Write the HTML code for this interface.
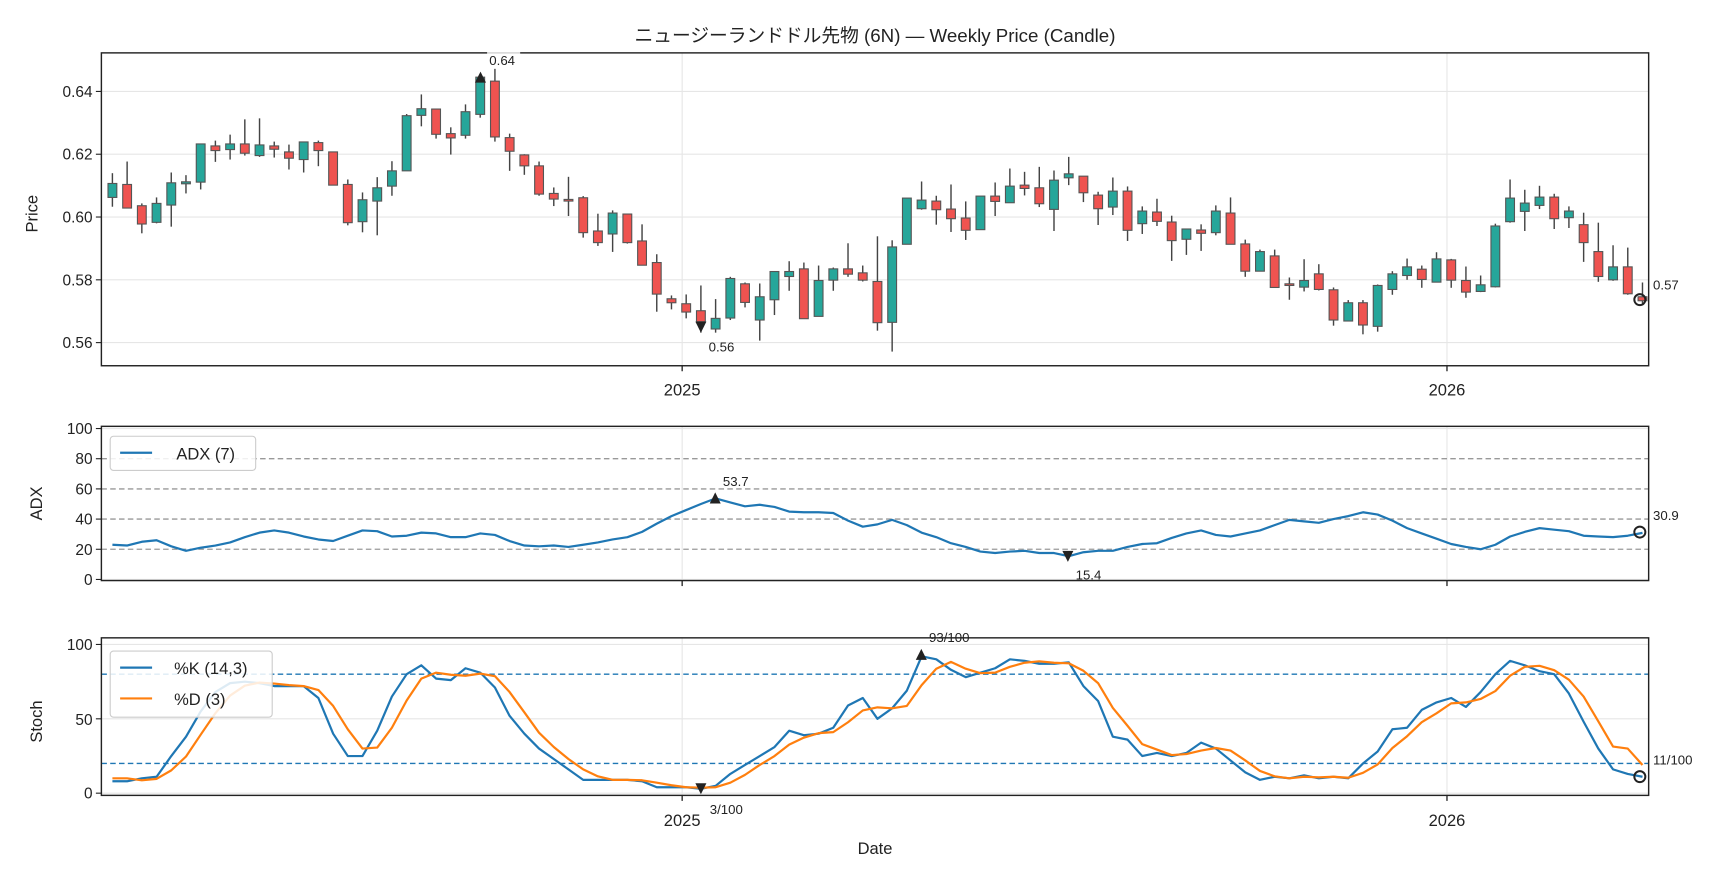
<!DOCTYPE html>
<html><head><meta charset="utf-8">
<style>
html,body{margin:0;padding:0;background:#fff;}
svg{display:block;}
text{font-family:"Liberation Sans","Noto Sans CJK JP",sans-serif;fill:#222;}
</style></head>
<body>
<svg id="s" width="1728" height="878" viewBox="0 0 1568 797" preserveAspectRatio="none" xmlns="http://www.w3.org/2000/svg">
<rect width="1568" height="797" fill="#fff"/>
<g id="g"></g>
<text x="794" y="38" font-size="17" text-anchor="middle">ニュージーランドドル先物 (6N) — Weekly Price (Candle)</text>
<text x="34" y="194" font-size="15" text-anchor="middle" transform="rotate(-90 34 194)">Price</text>
<text x="38" y="457" font-size="15" text-anchor="middle" transform="rotate(-90 38 457)">ADX</text>
<text x="38" y="655" font-size="15" text-anchor="middle" transform="rotate(-90 38 655)">Stoch</text>
<g font-size="14" text-anchor="end">
<text x="84" y="88">0.64</text><text x="84" y="145">0.62</text><text x="84" y="202">0.60</text><text x="84" y="259">0.58</text><text x="84" y="316">0.56</text>
<text x="84" y="394">100</text><text x="84" y="421">80</text><text x="84" y="449">60</text><text x="84" y="476">40</text><text x="84" y="504">20</text><text x="84" y="531">0</text>
<text x="84" y="590">100</text><text x="84" y="658">50</text><text x="84" y="725">0</text>
</g>
<g font-size="15" text-anchor="middle">
<text x="619" y="359">2025</text><text x="1313" y="359">2026</text>
<text x="619" y="750">2025</text><text x="1313" y="750">2026</text>
<text x="794" y="775">Date</text>
</g>
<g font-size="12" fill="#555">
<rect x="442" y="46" width="30" height="14" fill="#fff" opacity="0.8"/>
<text x="444" y="59" fill="#555">0.64</text>
<text x="643" y="319" fill="#555">0.56</text>
<text x="1500" y="263" fill="#555">0.57</text>
<text x="656" y="441" fill="#555">53.7</text>
<text x="976" y="526" fill="#555">15.4</text>
<text x="1500" y="472" fill="#555">30.9</text>
<text x="843" y="583" fill="#555">93/100</text>
<text x="644" y="739" fill="#555">3/100</text>
<text x="1500" y="694" fill="#555">11/100</text>
</g>
<g id="leg">
<rect x="100" y="396" width="132" height="31" rx="3" fill="#fff" fill-opacity="0.85" stroke="#ccc"/>
<line x1="109" y1="411" x2="138" y2="411" stroke="#1f77b4" stroke-width="2"/>
<text x="160" y="417" font-size="15">ADX (7)</text>
<rect x="100" y="591" width="147" height="60" rx="3" fill="#fff" fill-opacity="0.85" stroke="#ccc"/>
<line x1="109" y1="606" x2="138" y2="606" stroke="#1f77b4" stroke-width="2"/>
<text x="158" y="612" font-size="15">%K (14,3)</text>
<line x1="109" y1="634" x2="138" y2="634" stroke="#ff7f0e" stroke-width="2"/>
<text x="158" y="640" font-size="15">%D (3)</text>
</g>
</svg>
<script>
(function(){
var NS="http://www.w3.org/2000/svg",g=document.getElementById('g');
function el(t,a){var e=document.createElementNS(NS,t);for(var k in a)e.setAttribute(k,a[k]);g.appendChild(e);return e;}
var L=92,R=1496;
function X(i){return 102+13.35*i;}
var P=[[48,332],[387,527],[579,722]];
[83,140,197,254,311].forEach(function(y){el('line',{x1:L,x2:R,y1:y,y2:y,stroke:'#e6e6e6','stroke-width':1});});
[389,526].forEach(function(y){el('line',{x1:L,x2:R,y1:y,y2:y,stroke:'#e6e6e6','stroke-width':1});});
[585,652.5,720].forEach(function(y){el('line',{x1:L,x2:R,y1:y,y2:y,stroke:'#e6e6e6','stroke-width':1});});
P.forEach(function(p){[619,1313].forEach(function(x){el('line',{x1:x,x2:x,y1:p[0],y2:p[1],stroke:'#e6e6e6','stroke-width':1});});});
[20,40,60,80].forEach(function(v){var y=526-v*1.37;el('line',{x1:L,x2:R,y1:y,y2:y,stroke:'#999','stroke-width':1.2,'stroke-dasharray':'5,3'});});
[20,80].forEach(function(v){var y=720-v*1.35;el('line',{x1:L,x2:R,y1:y,y2:y,stroke:'#1f77b4','stroke-width':1.2,'stroke-dasharray':'5,3'});});
var c1=[[550,592,519,620,1],[553,624,484,624,0],[617,672,610,700,0],[610,667,592,670,1],[548,615,517,680,1],[545,551,525,580,1],[431,546,431,568,1],[437,451,421,485,0],[431,448,403,478,1],[431,459,357,466,0],[434,466,354,470,1],[437,447,424,472,0],[455,474,433,508,0],[425,478,425,517,1],[427,451,421,498,0],[455,555,455,555,0],[553,668,538,676,0],[599,665,577,697,1],[563,603,531,706,1],[512,558,483,587,1],[346,512,341,512,1],[325,345,282,378,1],[326,402,326,415,0],[400,413,381,463,0],[334,405,312,415,1],[230,342,222,352,1],[242,410,205,424,0],[412,453,400,512,0],[464,497,462,524,0],[497,582,484,587,0],[580,597,562,618,0]];
var c2=[[447,449,379,497,0],[442,547,437,562,0],[542,577,490,587,0],[488,551,480,605,1],[491,577,491,580,0],[572,645,522,645,0],[637,732,612,785,0],[746,758,736,778,0],[761,786,733,805,0],[782,815,706,848,0],[805,837,747,848,1],[685,804,680,810,1],[701,757,697,772,0],[740,810,700,872,1],[664,749,664,795,1],[664,679,633,722,1],[656,806,637,806,0],[691,799,646,799,1],[656,690,652,722,1],[656,672,579,680,0],[668,690,646,694,0],[694,818,558,842,0],[590,817,570,905,1],[443,582,443,582,1],[449,475,393,478,1],[452,478,436,523,0],[476,505,402,545,0],[503,540,453,569,0],[437,538,437,538,1],[437,453,396,497,0],[407,457,354,457,1],[404,414,364,435,0],[412,460,349,470,0],[389,477,360,542,1],[370,382,319,404,1],[377,427,377,455,0],[434,475,424,524,0],
[422,470,381,494,1],[422,540,408,572,0],[482,520,468,551,1],[485,513,445,527,0],[515,571,496,632,0],[536,567,536,614,1],[539,549,522,602,0],[482,547,465,555,1],[488,582,441,582,0],[581,663,568,680,0],[604,663,598,663,1],[617,712,598,712,0],[701,705,682,749,0],[691,711,627,724,1],[671,718,642,721,0],[719,810,712,827,0],[758,813,750,813,1],[758,825,750,853,0],[706,829,703,845,1],[671,718,663,734,1],[650,676,625,689,1],[657,688,646,713,0],[626,696,606,696,1],[629,690,626,713,0],[691,726,649,743,0],[704,724,676,726,1],[527,710,520,712,1],[443,514,387,517,1],[458,483,418,542,1],[440,465,406,476,1],[440,505,430,536,0],[482,502,468,533,1],[523,577,487,635,0],[604,679,517,695,0],[650,689,585,692,1],[650,731,592,734,0],[740,752,697,765,0]];
function cy1(z){return 83+(z-273)*0.3016;}
function cy2(z){return 83+(z-122)*0.3016;}
function draw(c,i,f){var x=X(i);
 el('line',{x1:x,x2:x,y1:f(c[2]),y2:f(c[3]),stroke:'#444','stroke-width':1.3});
 var t=f(c[0]),b=f(c[1]);if(b-t<1.5){b=t+1.5;}
 el('rect',{x:x-4,y:t,width:8,height:b-t,fill:c[4]?'#26a69a':'#ef5350',stroke:'#555','stroke-width':1});}
c1.forEach(function(c,i){draw(c,i,cy1);});
c2.forEach(function(c,i){draw(c,31+i,cy2);});
var adx=[23,22.5,25,26,22,19,21,22.5,24.5,28,31,32.5,31,28.5,26.5,25.5,29,32.5,32,28.5,29,31,30.5,28,28,30.5,29.5,25.5,22.5,22,22.5,21.5,23,24.5,26.5,28,31.5,37,42,46,50,53.7,51,48.5,49.5,48,45,44.5,44.5,44,39,35,36.5,39.5,36,31,28,24,21.5,18.5,17.5,18.5,19,17.5,17.5,15.4,18,19,19,21.5,23.5,24,27.5,30.5,32.5,29.5,28.5,30.5,32.5,36,39.5,38.5,37.5,40,42,44.5,43,39,34,30.5,27,23.5,21.5,20,23,28.5,31.5,34,33,32,29,28.5,28,29,30.9];
function poly(arr,fy,col){var s=arr.map(function(v,i){return X(i).toFixed(1)+','+fy(v).toFixed(1);}).join(' ');el('polyline',{points:s,fill:'none',stroke:col,'stroke-width':2,'stroke-linejoin':'round'});}
var ay=function(v){return 526-v*1.37;};
poly(adx,ay,'#1f77b4');
var k=[8,8,10,11,25,38,55,68,74,75,74,72,72,72,64,40,25,25,42,65,80,86,77,76,84,81,71,52,40,30,23,16,9,9,9,9,8,4,4,4,3,5,13,19,25,31,42,39,40,44,59,64,50,57,69,92,90,83,78,81,84,90,89,87,87,88,72,62,38,36,25,27,25,27,34,30,22,14,9,11,10,12,10,11,10,20,28,43,44,56,61,64,58,68,80,89,86,82,80,67,48,30,16,13,11];
var d=k.map(function(v,i){if(i<2)return v+2;return (k[i]+k[i-1]+k[i-2])/3;});
d[103]=30;d[104]=19;
var sy=function(v){return 720-v*1.35;};
poly(k,sy,'#1f77b4');poly(d,sy,'#ff7f0e');
function tri(x,y,up){var s=up?[[x-5,y+5],[x+5,y+5],[x,y-5]]:[[x-5,y-5],[x+5,y-5],[x,y+5]];el('polygon',{points:s.map(function(p){return p.join(',');}).join(' '),fill:'#222'});}
tri(436,70,1);tri(636,297,0);tri(649,452,1);tri(969,505,0);tri(836,594,1);tri(636,716,0);
[[1488,272],[1488,483],[1488,705]].forEach(function(p){el('circle',{cx:p[0],cy:p[1],r:5,fill:'none',stroke:'#222','stroke-width':1.8});});
P.forEach(function(p){el('rect',{x:L,y:p[0],width:R-L,height:p[1]-p[0],fill:'none',stroke:'#222','stroke-width':1.3});
 [619,1313].forEach(function(x){el('line',{x1:x,x2:x,y1:p[1],y2:p[1]+5,stroke:'#222','stroke-width':1.2});});});
[83,140,197,254,311].forEach(function(y){el('line',{x1:L-5,x2:L,y1:y,y2:y,stroke:'#222'});});
[0,20,40,60,80,100].forEach(function(v){var y=ay(v);el('line',{x1:L-5,x2:L,y1:y,y2:y,stroke:'#222'});});
[0,50,100].forEach(function(v){var y=sy(v);el('line',{x1:L-5,x2:L,y1:y,y2:y,stroke:'#222'});});
var s=document.getElementById('s');s.appendChild(document.getElementById('leg'));
})();
</script>
</body></html>
